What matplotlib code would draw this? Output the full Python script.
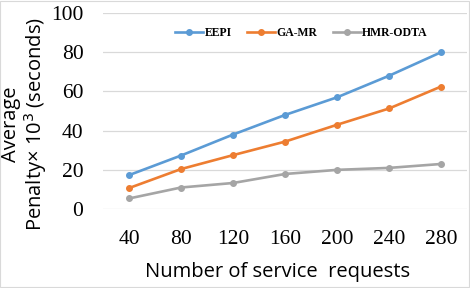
import matplotlib
matplotlib.use("Agg")
import matplotlib.pyplot as plt
from matplotlib.patches import Rectangle

# data
requests = ["40", "80", "120", "160", "200", "240", "280"]
eepi = [17.3, 27.3, 38.0, 48.0, 57.0, 68.0, 80.0]
ga_mr = [10.7, 20.4, 27.5, 34.4, 43.0, 51.3, 62.5]
hmr_odta = [5.4, 11.0, 13.3, 17.9, 20.0, 21.0, 23.0]

series = [("EEPI", eepi, "#5B9BD5"),
          ("GA-MR", ga_mr, "#ED7D31"),
          ("HMR-ODTA", hmr_odta, "#A5A5A5")]

fig = plt.figure(figsize=(4.7, 2.88), dpi=100)
ax = fig.add_axes([0.219, 0.274, 0.775, 0.681])

x = list(range(len(requests)))
for name, vals, col in series:
    ax.plot(x, vals, color=col, lw=1.9, marker="o", ms=4, label=name)

ax.set_xlim(-0.5, len(requests) - 0.5)
ax.set_ylim(0, 100)
ax.set_yticks([0, 20, 40, 60, 80, 100])
ax.set_xticks(x)
ax.set_xticklabels(requests)
ax.grid(axis="y", color="#D9D9D9", lw=0.9)
ax.set_axisbelow(True)
for s in ax.spines.values():
    s.set_visible(False)
ax.tick_params(length=0, labelsize=15.5, pad=14)
for lab in ax.get_xticklabels() + ax.get_yticklabels():
    lab.set_fontfamily("Liberation Serif")
ax.tick_params(axis="x", pad=15)

fig.text(0.053, 0.57, "Average\nPenalty× 10$^3$ (seconds)", rotation=90,
         ha="center", va="center", fontsize=14.5, family="Open Sans",
         linespacing=1.05)
fig.text(0.59, 0.056, "Number of service  requests", ha="center", va="center",
         fontsize=14.5, family="Open Sans")

leg = ax.legend(loc="center", bbox_to_anchor=(0.545, 0.898), ncol=3, frameon=False,
                handlelength=2.4, handletextpad=0.1, columnspacing=1.3,
                prop={"family": "Liberation Serif", "weight": "bold", "size": 8.5})

fig.patches.append(Rectangle((0.001, 0.002), 0.997, 0.995, transform=fig.transFigure,
                             fill=False, ec="#D9D9D9", lw=0.8))

fig.savefig("out.png", dpi=100)
